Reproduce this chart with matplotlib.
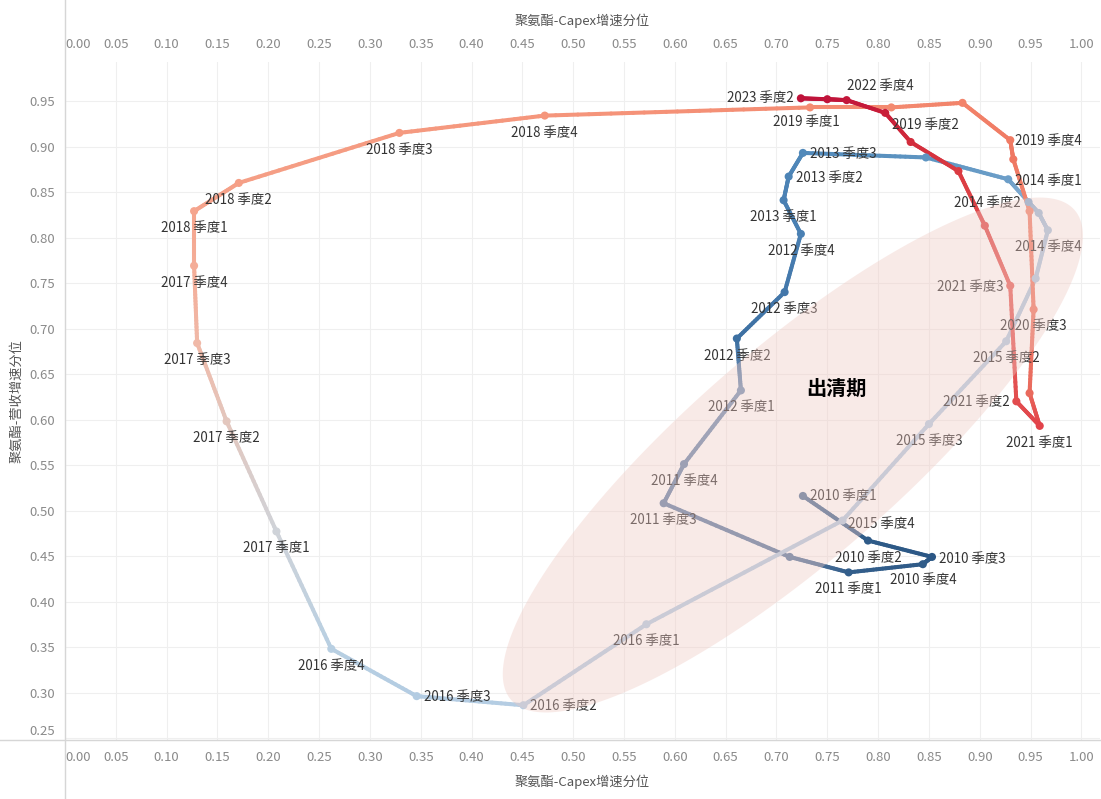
import numpy as np
import matplotlib
matplotlib.use("Agg")
import matplotlib.pyplot as plt
from matplotlib.collections import LineCollection
from matplotlib.patches import Polygon
from matplotlib.lines import Line2D
from matplotlib.colors import to_rgb

plt.rcParams['font.family'] = ['Noto Sans CJK SC', 'DejaVu Sans']

# ---------------- data ----------------
periods = [
    "2010 季度1", "2010 季度2", "2010 季度3", "2010 季度4",
    "2011 季度1", "2011 季度2", "2011 季度3", "2011 季度4",
    "2012 季度1", "2012 季度2", "2012 季度3", "2012 季度4",
    "2013 季度1", "2013 季度2", "2013 季度3", "2013 季度4",
    "2014 季度1", "2014 季度2", "2014 季度3", "2014 季度4",
    "2015 季度1", "2015 季度2", "2015 季度3", "2015 季度4",
    "2016 季度1", "2016 季度2", "2016 季度3", "2016 季度4",
    "2017 季度1", "2017 季度2", "2017 季度3", "2017 季度4",
    "2018 季度1", "2018 季度2", "2018 季度3", "2018 季度4",
    "2019 季度1", "2019 季度2", "2019 季度3", "2019 季度4",
    "2020 季度1", "2020 季度2", "2020 季度3", "2020 季度4",
    "2021 季度1", "2021 季度2", "2021 季度3", "2021 季度4",
    "2022 季度1", "2022 季度2", "2022 季度3", "2022 季度4",
    "2023 季度1", "2023 季度2",
]

capex_pct = [
    0.726, 0.790, 0.853, 0.844,
    0.771, 0.713, 0.589, 0.609,
    0.665, 0.661, 0.708, 0.724,
    0.707, 0.712, 0.726, 0.847,
    0.928, 0.948, 0.958, 0.967,
    0.955, 0.926, 0.850, 0.765,
    0.572, 0.451, 0.346, 0.262,
    0.208, 0.159, 0.130, 0.127,
    0.127, 0.171, 0.329, 0.472,
    0.733, 0.813, 0.883, 0.930,
    0.933, 0.949, 0.953, 0.949,
    0.959, 0.936, 0.930, 0.905,
    0.879, 0.832, 0.807, 0.769,
    0.750, 0.724,
]

revenue_pct = [
    0.516, 0.467, 0.449, 0.441,
    0.432, 0.449, 0.508, 0.551,
    0.632, 0.689, 0.740, 0.804,
    0.841, 0.867, 0.893, 0.888,
    0.864, 0.839, 0.827, 0.808,
    0.755, 0.686, 0.595, 0.489,
    0.375, 0.286, 0.296, 0.348,
    0.477, 0.598, 0.684, 0.769,
    0.829, 0.860, 0.915, 0.934,
    0.943, 0.943, 0.948, 0.907,
    0.886, 0.829, 0.721, 0.629,
    0.593, 0.620, 0.747, 0.813,
    0.873, 0.905, 0.937, 0.951,
    0.952, 0.953,
]

point_colors = [
    "#56769b", "#2f5b88", "#2b5785", "#2f5b88",
    "#335e8b", "#5a7aa0", "#6683a8", "#6c89ad",
    "#7693b6", "#3d70a2", "#4377aa", "#4a80b3",
    "#4a80b3", "#4d84b6", "#5189ba", "#5e95c2",
    "#6c9ec8", "#86aed2", "#9dbdd9", "#a9c5de",
    "#afc9e0", "#b3cce2", "#b5cde3", "#b2cbe1",
    "#b4cde3", "#b5cde3", "#b3cce2", "#b8cfe2",
    "#cfd3d9", "#e3c7be", "#f0b9a8", "#f4ad98",
    "#f5a58e", "#f59f86", "#f59a80", "#f5967c",
    "#f48c72", "#f38a70", "#f2836a", "#f07b64",
    "#ef7762", "#f08670", "#ee7a66", "#e96a5d",
    "#e2434a", "#e24c4e", "#e66560", "#df4b4c",
    "#db3b42", "#d22c3c", "#c91e38", "#c3163a",
    "#c0143a", "#bf123a",
]

# label placement per labelled period: (position, dx px, dy px)
label_place = {
    "2010 季度1": ("right", 7, 0), "2010 季度2": ("below", 0, -17),
    "2010 季度3": ("right", 7, -2), "2010 季度4": ("below", 0, -16),
    "2011 季度1": ("below", 0, -17), "2011 季度3": ("below", 0, -17),
    "2011 季度4": ("below", 0, -17), "2012 季度1": ("below", 0, -17),
    "2012 季度2": ("below", 0, -17), "2012 季度3": ("below", 0, -17),
    "2012 季度4": ("below", 0, -17), "2013 季度1": ("below", 0, -17),
    "2013 季度2": ("right", 7, -1), "2013 季度3": ("right", 7, -1),
    "2014 季度1": ("right", 7, -2), "2014 季度2": ("left", -8, -1),
    "2014 季度4": ("below", 0, -17), "2015 季度2": ("below", 0, -17),
    "2015 季度3": ("below", 0, -17), "2015 季度4": ("right", 5, -3),
    "2016 季度1": ("below", 0, -17), "2016 季度2": ("right", 7, -1),
    "2016 季度3": ("right", 7, -1), "2016 季度4": ("below", 0, -17),
    "2017 季度1": ("below", 0, -17), "2017 季度2": ("below", 0, -17),
    "2017 季度3": ("below", 0, -17), "2017 季度4": ("below", 0, -17),
    "2018 季度1": ("below", 0, -17), "2018 季度2": ("below", 0, -17),
    "2018 季度3": ("below", 0, -17), "2018 季度4": ("below", 0, -17),
    "2019 季度1": ("below", -4, -15), "2019 季度2": ("right", 1, -18),
    "2019 季度4": ("right", 5, -1), "2020 季度3": ("below", 0, -17),
    "2021 季度1": ("below", 0, -17), "2021 季度2": ("left", -7, -1),
    "2021 季度3": ("left", -7, -1), "2022 季度4": ("right", 0, 14),
    "2023 季度2": ("left", -7, 0),
}

x_ticks = [round(v * 0.05, 2) for v in range(21)]
y_ticks = [round(0.25 + v * 0.05, 2) for v in range(15)]
x_title = "聚氨酯-Capex增速分位"
y_title = "聚氨酯-营收增速分位"
zone_label = "出清期"

# ---------------- figure ----------------
W, H = 1101, 799
fig = plt.figure(figsize=(W / 100, H / 100), dpi=100)
ax = fig.add_axes([65 / W, 59 / H, 1035 / W, 678 / H])
ax.set_xlim(0, 1.0183)
ax.set_ylim(0.2478, 0.9929)

for s in ax.spines.values():
    s.set_visible(False)

ax.set_xticks(x_ticks)
ax.set_yticks(y_ticks)
ax.set_xticklabels([f"{v:.2f}" for v in x_ticks])
ax.set_yticklabels([f"{v:.2f}" for v in y_ticks])
ax.tick_params(axis='x', which='both', length=0, top=True, labeltop=True,
               bottom=True, labelbottom=True, pad=8, labelsize=9.5,
               labelcolor='#8a8a8a')
ax.tick_params(axis='y', length=0, pad=7, labelsize=9.5, labelcolor='#8a8a8a')
ax.grid(True, color='#efefef', lw=0.8, zorder=0)
ax.set_axisbelow(True)

t0 = ax.xaxis.get_major_ticks()[0]
t0.label1.set_horizontalalignment('left')
t0.label2.set_horizontalalignment('left')
ax.yaxis.get_major_ticks()[0].label1.set_verticalalignment('bottom')

# gradient line
xs = np.array(capex_pct)
ys = np.array(revenue_pct)
cols = np.array([to_rgb(c) for c in point_colors])
segs, segcols = [], []
n_sub = 24
for i in range(len(xs) - 1):
    f = np.linspace(0, 1, n_sub + 1)
    px = xs[i] + (xs[i + 1] - xs[i]) * f
    py = ys[i] + (ys[i + 1] - ys[i]) * f
    for k in range(n_sub):
        segs.append([(px[k], py[k]), (px[k + 1], py[k + 1])])
        fm = (f[k] + f[k + 1]) / 2
        segcols.append(cols[i] * (1 - fm) + cols[i + 1] * fm)
lc = LineCollection(segs, colors=segcols, linewidths=2.9, capstyle='round',
                    joinstyle='round', zorder=2)
ax.add_collection(lc)
ax.scatter(xs, ys, s=34, c=point_colors, zorder=3, linewidths=0)

# labels
for name, x, y in zip(periods, capex_pct, revenue_pct):
    if name not in label_place:
        continue
    pos, dx, dy = label_place[name]
    ha = {'right': 'left', 'left': 'right', 'below': 'center'}[pos]
    ax.annotate(name, (x, y), xytext=(dx, dy), textcoords='offset pixels',
                ha=ha, va='center', fontsize=9.6, color='#333333', zorder=4)

# highlighted zone (ellipse drawn over)
cx, cy = 0.7161, 0.5610
A = np.array([0.2772, 0.2692])
B = np.array([0.0679, -0.0871])
tt = np.linspace(0, 2 * np.pi, 240)
ex = cx + A[0] * np.cos(tt) + B[0] * np.sin(tt)
ey = cy + A[1] * np.cos(tt) + B[1] * np.sin(tt)
ax.add_patch(Polygon(np.column_stack([ex, ey]), closed=True,
                     facecolor='#efc8c1', edgecolor='none', alpha=0.38, zorder=5))
ax.text(0.7585, 0.6346, zone_label, fontsize=14.5, fontweight='bold',
        color='black', ha='center', va='center', zorder=6)

# titles
fig.text(582 / W, 1 - 21 / H, x_title, ha='center', va='center',
         fontsize=9.5, color='#555555')
fig.text(582 / W, 1 - 782 / H, x_title, ha='center', va='center',
         fontsize=9.5, color='#555555')
fig.text(17 / W, 1 - 401 / H, y_title, ha='center', va='center',
         rotation=90, fontsize=9.5, color='#555555')

# frame lines
fig.add_artist(Line2D([65 / W, 65 / W], [0, 1], color='#d6d6d6', lw=1))
fig.add_artist(Line2D([0, 1], [1 - 740 / H, 1 - 740 / H], color='#d6d6d6', lw=1))

fig.savefig("out.png", dpi=100, facecolor='white')
